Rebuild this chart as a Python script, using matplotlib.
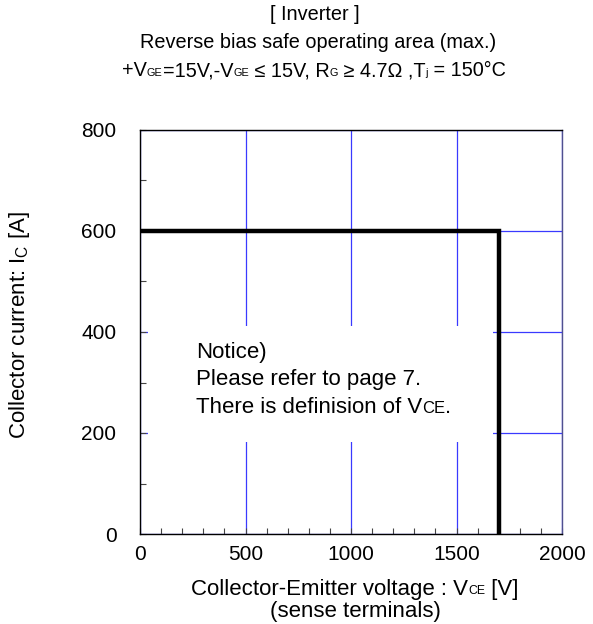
import matplotlib
matplotlib.use('Agg')
import matplotlib.pyplot as plt
from matplotlib.patches import Rectangle
from matplotlib.offsetbox import TextArea, HPacker, AnnotationBbox

plt.rcParams['font.family'] = ['Liberation Sans', 'DejaVu Sans']
plt.rcParams['mathtext.fontset'] = 'custom'
plt.rcParams['mathtext.rm'] = 'Liberation Sans'

# RBSOA boundary (collector-emitter voltage vs collector current)
vce = [0, 1700, 1700]
ic = [600, 600, 0]

x_ticks = [0, 500, 1000, 1500, 2000]
y_ticks = [0, 200, 400, 600, 800]

FS = 14.3      # title
FS_TICK = 15
FS_LABEL = 16
SUB = 0.55
GRID = '#3a3aff'


def rich_line(host, parts, xy, coords, align=(0.5, 0.5), size=FS):
    # one line of text with small, baseline-aligned subscript pieces
    kids = [TextArea(t, textprops=dict(fontsize=size * s, color='black'))
            for t, s in parts]
    box = HPacker(children=kids, align='baseline', pad=0, sep=0)
    ab = AnnotationBbox(box, xy, xycoords=coords, frameon=False,
                        box_alignment=align, pad=0, zorder=5)
    host.add_artist(ab)


fig = plt.figure(figsize=(5.93, 6.24), dpi=100)
ax = fig.add_axes([140 / 593, 90 / 624, 422 / 593, 404 / 624])

ax.set_xlim(0, 2000)
ax.set_ylim(0, 800)
ax.set_xticks(x_ticks)
ax.set_yticks(y_ticks)
ax.set_xticks(range(0, 2001, 100), minor=True)
ax.set_yticks(range(0, 801, 100), minor=True)
ax.tick_params(which='both', direction='in', top=False, right=False,
               labelsize=FS_TICK, width=0.8, color='#444444')
ax.tick_params(which='major', length=4)
ax.tick_params(which='minor', length=4)
ax.tick_params(axis='x', pad=8)
ax.tick_params(axis='y', pad=17)

ax.grid(True, which='major', color=GRID, lw=0.9)
ax.set_axisbelow(True)
for side in ['left', 'bottom', 'top']:
    ax.spines[side].set_color('black')
    ax.spines[side].set_linewidth(1.0)
ax.spines['right'].set_color('#505090')
ax.spines['right'].set_linewidth(1.0)

# white panel behind the notice text
ax.add_patch(Rectangle((38, 182), 1635, 230, facecolor='white',
                       edgecolor='none', zorder=1.5))

ax.plot(vce, ic, color='black', lw=3.2, zorder=3, solid_joinstyle='miter')

# notice
ax.text(265, 360, 'Notice)', fontsize=FS_LABEL, va='center', zorder=4)
ax.text(265, 305, 'Please refer to page 7.', fontsize=FS_LABEL, va='center',
        zorder=4)
rich_line(ax, [('There is definision of V', 1), ('CE', 0.75), ('.', 1)],
          (265, 250), 'data', align=(0, 0.5), size=FS_LABEL)

# title block
rich_line(fig, [('[ Inverter ]', 1)], (315, 609), 'figure pixels')
rich_line(fig, [('Reverse bias safe operating area (max.)', 1)], (318, 581),
          'figure pixels')
rich_line(fig, [('+V', 1), ('GE', SUB), ('=15V,-V', 1), ('GE', SUB),
                (' \u2264 15V, R', 1), ('G', SUB), (' \u2265 4.7\u03a9 ,T', 1),
                ('j', SUB), (' = 150\u00b0C', 1)], (314, 553), 'figure pixels')

# axis labels
rich_line(fig, [('Collector-Emitter voltage : V', 1), ('CE', SUB), (' [V]', 1)],
          (355, 35), 'figure pixels', size=FS_LABEL)
rich_line(fig, [('(sense terminals)', 1)], (355, 13), 'figure pixels',
          size=FS_LABEL)
fig.text(20 / 593, 299 / 624, r'Collector current: I$_{\mathregular{C}}$ [A]',
         rotation=90, ha='center', va='center', fontsize=FS_LABEL)

fig.savefig('out.png', dpi=100)
